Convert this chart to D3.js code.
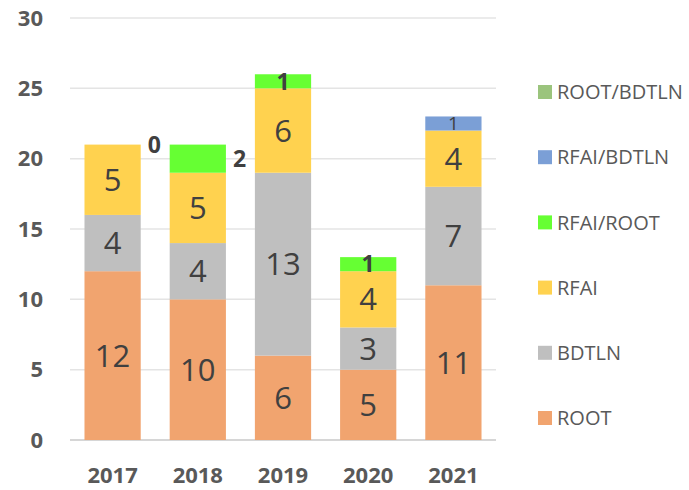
<!DOCTYPE html>
<html>
<head>
<meta charset="utf-8">
<script src="https://cdn.jsdelivr.net/npm/d3@7"></script>
<style>
  body { margin: 0; background: #fff; }
  text { font-family: "Open Sans", "Noto Sans", sans-serif; }
</style>
</head>
<body>
<div id="chart"></div>
<script>
// data
const years = ["2017", "2018", "2019", "2020", "2021"];
const seriesNames = ["ROOT", "BDTLN", "RFAI", "RFAI/ROOT", "RFAI/BDTLN", "ROOT/BDTLN"];
const rootVals      = [12, 10, 6, 5, 11];
const bdtlnVals     = [4, 4, 13, 3, 7];
const rfaiVals      = [5, 5, 6, 4, 4];
const rfaiRootVals  = [0, 2, 1, 1, 0];
const rfaiBdtlnVals = [0, 0, 0, 0, 1];
const rootBdtlnVals = [0, 0, 0, 0, 0];
const yTicks = [0, 5, 10, 15, 20, 25, 30];

const colors = ["#F1A46F", "#BFBFBF", "#FFD24F", "#66FF33", "#7B9FD6", "#9BC47D"];

const W = 689, H = 490;
const X0 = 70, X1 = 496, Y0 = 440, Y1 = 18;

const svg = d3.select("#chart").append("svg")
    .attr("width", W).attr("height", H);

const table = years.map((yr, i) => ({
    year: yr,
    "ROOT": rootVals[i],
    "BDTLN": bdtlnVals[i],
    "RFAI": rfaiVals[i],
    "RFAI/ROOT": rfaiRootVals[i],
    "RFAI/BDTLN": rfaiBdtlnVals[i],
    "ROOT/BDTLN": rootBdtlnVals[i]
}));

const stacked = d3.stack().keys(seriesNames)(table);

const x = d3.scaleBand().domain(years).range([X0, X1])
    .paddingInner(0.34).paddingOuter(0.17);
const y = d3.scaleLinear().domain([0, 30]).range([Y0, Y1]);

// grid
svg.append("g").selectAll("line")
    .data(yTicks)
    .join("line")
    .attr("x1", X0).attr("x2", X1)
    .attr("y1", d => y(d)).attr("y2", d => y(d))
    .attr("stroke", d => d === 0 ? "#C8C8C8" : "#E4E4E4")
    .attr("stroke-width", 1.5);

// y labels
svg.append("g").selectAll("text")
    .data(yTicks)
    .join("text")
    .attr("x", 43)
    .attr("y", d => y(d))
    .attr("dy", "0.35em")
    .attr("text-anchor", "end")
    .attr("fill", "#595959")
    .style("font-size", "22px")
    .style("font-weight", 700)
    .text(d => d);

// x labels
svg.append("g").selectAll("text")
    .data(years)
    .join("text")
    .attr("x", d => x(d) + x.bandwidth() / 2)
    .attr("y", 475)
    .attr("dy", "0.35em")
    .attr("text-anchor", "middle")
    .attr("fill", "#595959")
    .style("font-size", "22px")
    .style("font-weight", 700)
    .text(d => d);

// bars
const layers = svg.append("g").selectAll("g")
    .data(stacked)
    .join("g")
    .attr("fill", (d, i) => colors[i]);

layers.selectAll("rect")
    .data(d => d.filter(s => s[1] - s[0] > 0))
    .join("rect")
    .attr("x", d => x(d.data.year))
    .attr("y", d => y(d[1]))
    .attr("width", x.bandwidth())
    .attr("height", d => y(d[0]) - y(d[1]));

// labels
const outsideYears = ["2017", "2018"];
stacked.forEach((layer, si) => {
    const key = layer.key;
    layer.forEach(seg => {
        const v = seg[1] - seg[0];
        const yr = seg.data.year;
        let show = v > 0;
        if (key === "RFAI/ROOT" && yr !== "2021") show = true;
        if (!show) return;
        const small = key === "RFAI/ROOT" || key === "RFAI/BDTLN";
        const outside = key === "RFAI/ROOT" && outsideYears.includes(yr);
        svg.append("text")
            .attr("x", outside ? x(yr) + x.bandwidth() + 7 : x(yr) + x.bandwidth() / 2)
            .attr("y", y((seg[0] + seg[1]) / 2))
            .attr("dy", "0.36em")
            .attr("text-anchor", outside ? "start" : "middle")
            .attr("fill", "#404040")
            .style("font-size", small ? (key === "RFAI/ROOT" ? "23px" : "19px") : "31px")
            .style("font-weight", key === "RFAI/ROOT" ? 700 : 400)
            .text(v);
    });
});

// legend
const legendOrder = seriesNames.slice().reverse();
const legend = svg.append("g").selectAll("g")
    .data(legendOrder)
    .join("g")
    .attr("transform", (d, i) => `translate(538, ${92 + i * 65.2})`);

legend.append("rect")
    .attr("x", 0).attr("y", -7)
    .attr("width", 14).attr("height", 14)
    .attr("fill", d => colors[seriesNames.indexOf(d)]);

legend.append("text")
    .attr("x", 19).attr("y", 0)
    .attr("dy", "0.36em")
    .attr("fill", "#595959")
    .style("font-size", "20px")
    .text(d => d);
</script>
</body>
</html>
